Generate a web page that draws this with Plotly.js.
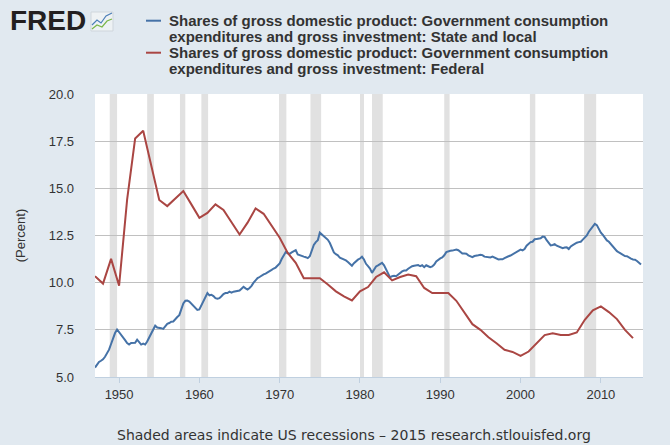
<!DOCTYPE html>
<html>
<head>
<meta charset="utf-8">
<script src="https://cdn.plot.ly/plotly-3.0.1.min.js"></script>
<style>
  html, body {margin: 0; padding: 0; background: #e1e9f0;}
  #chart {width: 670px; height: 445px;}
</style>
</head>
<body>
<div id="chart"></div>
<script>
//---------------------------------------------------------------------------------------------------------------------
// FRED: shares of GDP, government consumption expenditures and gross investment
//---------------------------------------------------------------------------------------------------------------------
var stateLocalStart = 1947;   // quarterly, first quarter of 1947 onwards
var stateLocalValues = [
    5.5, 5.68, 5.8, 5.86,     5.94, 6.07, 6.25, 6.45,     6.75, 7.06, 7.33, 7.52,     7.36, 7.23, 7.1, 6.95,
    6.8, 6.72, 6.8, 6.81,     6.81, 6.98, 6.85, 6.72,     6.77, 6.72, 6.88, 7.1,      7.33, 7.52, 7.72, 7.62,
    7.62, 7.59, 7.55, 7.67,   7.82, 7.86, 7.93, 7.94,     8.08, 8.18, 8.28, 8.55,     8.9, 9.04, 9.05, 9.0,
    8.9, 8.78, 8.67, 8.56,    8.58, 8.82, 9.02, 9.25,     9.45, 9.33, 9.36, 9.29,     9.18, 9.15, 9.18, 9.28,
    9.4, 9.45, 9.45, 9.52,    9.47, 9.52, 9.54, 9.59,     9.58, 9.68, 9.78, 9.7,      9.64, 9.72, 9.83, 10.0,
    10.14, 10.24, 10.3, 10.38, 10.44, 10.48, 10.56, 10.62, 10.68, 10.75, 10.8, 10.91, 11.02, 11.25, 11.43, 11.62,
    11.56, 11.53, 11.6, 11.68, 11.72, 11.5, 11.45, 11.43, 11.38, 11.35, 11.3, 11.4,   11.7, 12.0, 12.15, 12.25,
    12.65, 12.55, 12.47, 12.38, 12.27, 12.1, 11.85, 11.6, 11.51, 11.45, 11.32, 11.28, 11.23, 11.18, 11.1, 10.97,
    10.9, 11.03, 11.15, 11.22, 11.28, 11.37, 11.23, 11.0, 10.88, 10.75, 10.52, 10.67, 10.86, 10.92, 10.99, 11.05,
    10.92, 10.7, 10.46, 10.28, 10.34, 10.37, 10.34, 10.43, 10.51, 10.6, 10.64, 10.64, 10.74, 10.82, 10.87, 10.9,
    10.93, 10.93, 10.87, 10.92, 10.82, 10.92, 10.87, 10.82, 10.86, 10.96, 11.13, 11.22, 11.29, 11.34, 11.45, 11.62,
    11.67, 11.69, 11.7, 11.73, 11.76, 11.72, 11.61, 11.55, 11.54, 11.53, 11.45, 11.38, 11.35, 11.41, 11.45, 11.45,
    11.48, 11.46, 11.38, 11.37, 11.32, 11.34, 11.38, 11.32, 11.28, 11.23, 11.24, 11.24, 11.3, 11.37, 11.4, 11.44,
    11.51, 11.57, 11.62, 11.67, 11.75, 11.71, 11.78, 11.96, 12.08, 12.15, 12.17, 12.3, 12.32, 12.32, 12.35, 12.44,
    12.42, 12.25, 12.08, 11.98, 12.0, 12.04, 11.96, 11.91, 11.85, 11.83, 11.86, 11.87, 11.78, 11.92, 11.99, 12.06,
    12.12, 12.15, 12.17, 12.28, 12.4, 12.5, 12.7, 12.86, 13.01, 13.12, 13.05, 12.83, 12.65, 12.53, 12.35, 12.24,
    12.17, 12.05, 11.9, 11.78, 11.67, 11.6, 11.53, 11.46, 11.41, 11.4, 11.31, 11.27, 11.23, 11.22, 11.15, 11.07,
    10.96
];

var federalStart = 1947;      // annual
var federalValues = [
    10.34, 9.95, 11.26, 9.84, 14.4, 17.64, 18.05, 16.2, 14.38, 14.06,
    14.45, 14.86, 14.15, 13.44, 13.7, 14.15, 13.85, 13.18, 12.55, 13.18,
    13.94, 13.65, 13.0, 12.38, 11.58, 11.05, 10.23, 10.23, 10.23, 9.9,
    9.54, 9.27, 9.06, 9.54, 9.77, 10.3, 10.55, 10.12, 10.3, 10.43,
    10.34, 9.72, 9.45, 9.45, 9.45, 9.04, 8.39, 7.8, 7.5, 7.11,
    6.79, 6.44, 6.33, 6.12, 6.35, 6.79, 7.22, 7.32, 7.23, 7.23,
    7.36, 8.03, 8.53, 8.74, 8.44, 8.07, 7.5, 7.06
];

var seriesNames = [
    'Shares of gross domestic product: Government consumption<br>expenditures and gross investment: State and local',
    'Shares of gross domestic product: Government consumption<br>expenditures and gross investment: Federal'
];
var seriesColors = ['#4572a7', '#aa4643'];

var recessionStarts = ['1948-11-01', '1953-07-01', '1957-08-01', '1960-04-01', '1969-12-01', '1973-11-01',
                       '1980-01-01', '1981-07-01', '1990-07-01', '2001-03-01', '2007-12-01'];
var recessionEnds   = ['1949-10-01', '1954-05-01', '1958-04-01', '1961-02-01', '1970-11-01', '1975-03-01',
                       '1980-07-01', '1982-11-01', '1991-03-01', '2001-11-01', '2009-06-01'];

var yTicks = [5, 7.5, 10, 12.5, 15, 17.5, 20];

// page pixel -> paper coordinates (plot area is 95..643 x 94..377)
function px(x) { return (x - 95) / 548; }
function py(y) { return (377 - y) / 283; }

function pad2(n) { return (n < 10 ? '0' : '') + n; }

function quarterDates(startYear, n) {
    var out = [];
    for (var i = 0; i < n; i++)
        out.push((startYear + Math.floor(i / 4)) + '-' + pad2(1 + 3 * (i % 4)) + '-01');
    return out;
}

function yearDates(startYear, n) {
    var out = [];
    for (var i = 0; i < n; i++) out.push((startYear + i) + '-01-01');
    return out;
}

function plot_fred(divId) {
    var trace1 = {x: quarterDates(stateLocalStart, stateLocalValues.length), y: stateLocalValues,
                  mode: 'lines', line: {color: seriesColors[0], width: 2}, name: seriesNames[0]};
    var trace2 = {x: yearDates(federalStart, federalValues.length), y: federalValues,
                  mode: 'lines', line: {color: seriesColors[1], width: 2}, name: seriesNames[1]};

    var shapes = [];
    for (var i = 0; i < recessionStarts.length; i++) {
        shapes.push({type: 'rect', xref: 'x', yref: 'paper', x0: recessionStarts[i], x1: recessionEnds[i],
                     y0: 0, y1: 1, fillcolor: '#e1e1e1', line: {width: 0}, layer: 'below'});
    }

    var annotations = [];
    // legend: short swatch + bold two-line label
    var legendTop = [20.7, 52.7];
    for (var s = 0; s < seriesNames.length; s++) {
        shapes.push({type: 'line', xref: 'paper', yref: 'paper', x0: px(146), x1: px(161),
                     y0: py(legendTop[s]), y1: py(legendTop[s]), line: {color: seriesColors[s], width: 2}});
        var lines = seriesNames[s].split('<br>');
        for (var k = 0; k < lines.length; k++) {
            annotations.push({xref: 'paper', yref: 'paper', x: px(167), y: py(legendTop[s] + 16 * k),
                xanchor: 'left', yanchor: 'middle', showarrow: false, text: lines[k],
                font: {family: 'Liberation Sans', size: 15, weight: 'bold', color: '#333333'}});
        }
    }

    // FRED logo
    annotations.push({xref: 'paper', yref: 'paper', x: px(8), y: py(21), xanchor: 'left', yanchor: 'middle',
        showarrow: false, text: 'FRED', font: {family: 'Liberation Sans', size: 28, weight: 'bold', color: '#231f20'}});
    shapes.push({type: 'rect', xref: 'paper', yref: 'paper', x0: px(91), x1: px(113), y0: py(31), y1: py(12),
                 fillcolor: '#eef2f4', line: {color: '#cfd6dc', width: 1}});
    shapes.push({type: 'path', xref: 'paper', yref: 'paper', line: {color: '#4d7fb8', width: 1.2},
                 path: 'M' + px(92) + ',' + py(25) + ' L' + px(97) + ',' + py(20) + ' L' + px(101) + ',' + py(23) +
                       ' L' + px(106) + ',' + py(16) + ' L' + px(112) + ',' + py(13)});
    shapes.push({type: 'path', xref: 'paper', yref: 'paper', line: {color: '#7ab648', width: 1.2},
                 path: 'M' + px(92) + ',' + py(29) + ' L' + px(97) + ',' + py(25) + ' L' + px(102) + ',' + py(27) +
                       ' L' + px(107) + ',' + py(21) + ' L' + px(112) + ',' + py(19)});

    // footer
    annotations.push({xref: 'paper', yref: 'paper', x: px(354), y: py(435), xanchor: 'center', yanchor: 'middle',
        showarrow: false, text: 'Shaded areas indicate US recessions \u2013 2015 research.stlouisfed.org',
        font: {family: 'DejaVu Sans', size: 14, color: '#333333'}});

    var layout = {
        width: 670, height: 445,
        margin: {l: 95, r: 27, t: 94, b: 68, pad: 0},
        paper_bgcolor: '#e1e9f0', plot_bgcolor: '#ffffff',
        showlegend: false,
        font: {family: 'Liberation Sans', color: '#333333'},
        xaxis: {type: 'date', range: ['1947-01-01', '2015-04-01'], tick0: '1950-01-01', dtick: 'M120',
                tickformat: '%Y', ticks: 'outside', ticklen: 5, tickcolor: '#c0d0e0', showgrid: false,
                showline: true, linecolor: '#c0d0e0', linewidth: 1, zeroline: false,
                tickfont: {size: 13, color: '#333333'}},
        yaxis: {range: [5, 20], tickvals: yTicks, tickformat: '.1f', showgrid: true, gridcolor: '#c0c0c0',
                gridwidth: 1, zeroline: false, showline: false, ticks: '', ticklabelstandoff: 20,
                tickfont: {size: 13, color: '#333333'},
                title: {text: '(Percent)', font: {size: 13, color: '#333333'}, standoff: 20}},
        shapes: shapes,
        annotations: annotations
    };
    Plotly.newPlot(divId, [trace1, trace2], layout, {displayModeBar: false, staticPlot: true});
}

plot_fred('chart');
</script>
</body>
</html>
